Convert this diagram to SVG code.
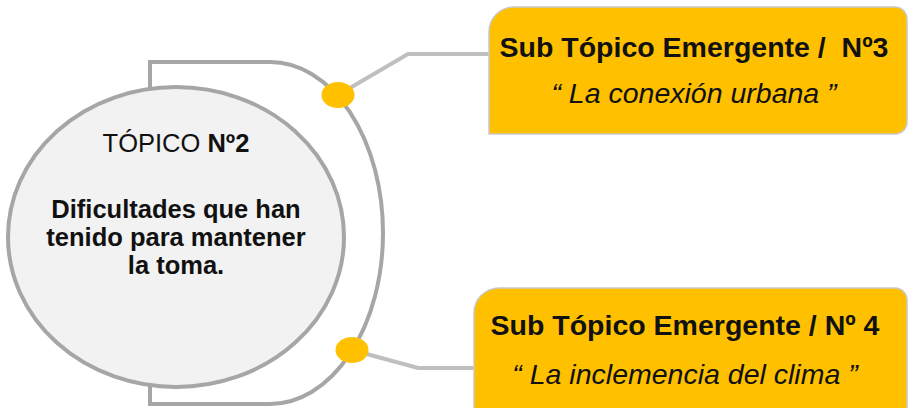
<svg xmlns="http://www.w3.org/2000/svg" width="909" height="408" viewBox="0 0 909 408">
<style>
.frame{fill:none;stroke:#a6a6a6;stroke-width:4}
.conn{fill:none;stroke:#bfbfbf;stroke-width:4;stroke-linejoin:miter}
.dot{fill:#ffc000}
.box{fill:#ffc000;stroke:#c9c9c9;stroke-width:1.5}
.t{font-family:"Liberation Sans",Arial,sans-serif;fill:#111;white-space:pre}
.title{font-size:28.5px;font-weight:bold}
.sub{font-size:28.5px;font-style:italic}
.ct{font-size:25.5px}
</style>
<g id="frame">
<path class="frame" d="M150,62 H270 A113,171 0 0 1 270,404 H150 Z"/>
</g>
<g id="topic">
<ellipse cx="176" cy="237" rx="168" ry="150" fill="#f2f2f2" stroke="#a6a6a6" stroke-width="4"/>
<text class="t ct" x="176" y="152" text-anchor="middle">TÓPICO <tspan font-weight="bold">Nº2</tspan></text>
<text class="t ct" x="176" y="218" text-anchor="middle" font-weight="bold">Dificultades que han</text>
<text class="t ct" x="176" y="246" text-anchor="middle" font-weight="bold">tenido para mantener</text>
<text class="t ct" x="176" y="274" text-anchor="middle" font-weight="bold">la toma.</text>
</g>
<g id="connectors">
<polyline class="conn" points="338,95 408,54 490,54"/>
<polyline class="conn" points="352,350 418,368 475,368"/>
</g>
<g id="sub3">
<path class="box" d="M489,134 V32 A25,25 0 0 1 514,7 H895 A12,12 0 0 1 907,19 V122 A12,12 0 0 1 895,134 Z"/>
<text class="t title" x="694" y="57" text-anchor="middle">Sub Tópico Emergente /  Nº3</text>
<text class="t sub" x="694" y="103" text-anchor="middle">“ La conexión urbana ”</text>
</g>
<g id="sub4">
<path class="box" d="M474,420 V313 A25,25 0 0 1 499,288 H895 A12,12 0 0 1 907,300 V420 Z"/>
<text class="t title" x="685" y="335" text-anchor="middle">Sub Tópico Emergente / Nº 4</text>
<text class="t sub" x="685" y="384" text-anchor="middle">“ La inclemencia del clima ”</text>
</g>
<g id="dots">
<ellipse class="dot" cx="338" cy="95" rx="16.5" ry="13"/>
<ellipse class="dot" cx="352" cy="350" rx="16.5" ry="13"/>
</g>
</svg>
